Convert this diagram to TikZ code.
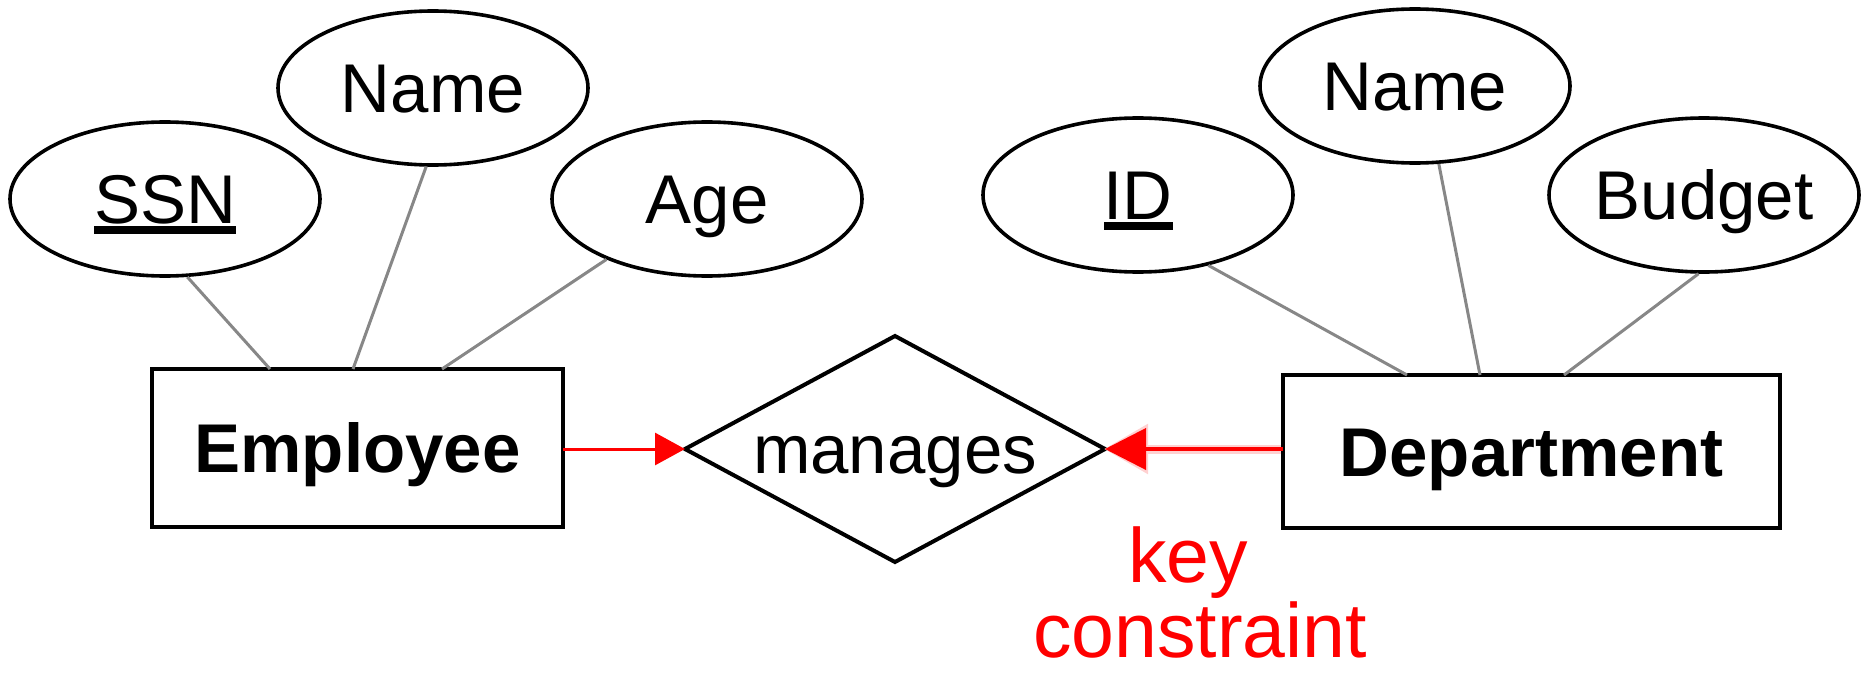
\documentclass[tikz,border=0pt]{standalone}
\usepackage{fontspec}
\setmainfont{Liberation Sans}
\usetikzlibrary{shapes.geometric,arrows.meta,calc}
\definecolor{linkgray}{RGB}{135,135,135}
\newsavebox\ulbox
\newcommand\ulkey[1]{\sbox\ulbox{#1}\rlap{\rule[-10pt]{\wd\ulbox}{7.5pt}}\usebox\ulbox}
\begin{document}
\begin{tikzpicture}[x=1pt,y=-1pt,
  attr/.style={ellipse, draw, line width=3.6pt, minimum width=310pt, minimum height=154pt,
    inner sep=0pt, font=\fontsize{69}{80}\selectfont, text height=49pt, text depth=0pt},
  entity/.style={rectangle, draw, line width=4.5pt, inner sep=0pt, outer sep=0pt,
    font=\bfseries\fontsize{69}{80}\selectfont, text height=49pt, text depth=0pt},
  relship/.style={diamond, draw, line width=4pt, shape aspect=1.86, minimum width=420pt,
    minimum height=226pt, inner sep=0pt, outer sep=0pt,
    font=\fontsize{69}{80}\selectfont, text height=49pt, text depth=0pt},
  link/.style={draw=linkgray, line width=3pt},
  keyarrow/.style={draw=red, line width=#1},
  glow/.style={draw=red!18, line width=#1},
  note/.style={text=red, font=\fontsize{77}{75}\selectfont, anchor=base, inner sep=0pt}]
\useasboundingbox (0,0) rectangle (1866,677);

\node[attr] (ssn) at (165,199) {\ulkey{SSN}};
\node[attr] (nameL) at (433,88) {Name};
\node[attr] (age) at (707,199) {Age};
\node[entity, minimum width=411pt, minimum height=158pt] (emp) at (357.5,448) {Employee};
\node[relship] (rel) at (895,449) {manages};
\node[entity, minimum width=497pt, minimum height=153pt] (dep) at (1531.5,451.5) {Department};
\node[attr] (id) at (1138,195) {\ulkey{ID}};
\node[attr] (nameR) at (1415,86) {Name};
\node[attr] (bud) at (1704,195) {Budget};
\node[note] (k1) at (1188,582) {key};
\node[note] (k2) at (1200,657) {constraint};

\coordinate (e1) at ([xshift=118pt]emp.north west);
\coordinate (e2) at ([xshift=201pt]emp.north west);
\coordinate (e3) at ([xshift=290pt]emp.north west);
\coordinate (d1) at ([xshift=124pt]dep.north west);
\coordinate (d2) at ([xshift=197pt]dep.north west);
\coordinate (d3) at ([xshift=281pt]dep.north west);

\draw[link] (ssn.-74) -- (e1);
\draw[link] (nameL.-95) -- (e2);
\draw[link] (age.-149) -- (e3);
\draw[link] (id.-45) -- (d1);
\draw[link] (nameR.-73) -- (d2);
\draw[link] (bud.-94) -- (d3);

\draw[glow=9pt, -{Triangle[length=44pt,width=48pt]}] ([xshift=-2pt]dep.west |- rel.east) -- ([xshift=-1pt]rel.east);
\draw[keyarrow=3pt, -{Triangle[length=30pt,width=32pt]}] (emp.east |- rel.west) -- (rel.west);
\draw[keyarrow=4pt, -{Triangle[length=41pt,width=41pt]}] (dep.west |- rel.east) -- (rel.east);
\end{tikzpicture}
\end{document}
